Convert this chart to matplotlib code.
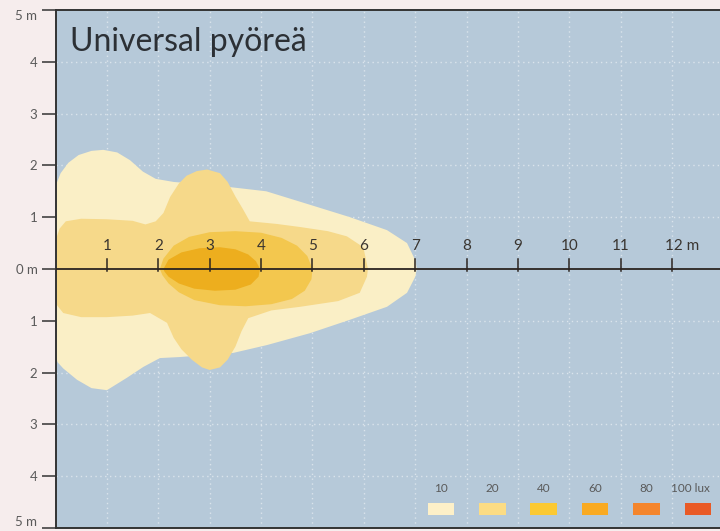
import matplotlib.pyplot as plt
from matplotlib.patches import Rectangle

# light pattern outlines, metres (x ahead, y sideways)
lux10_top_x = [0, 0.1, 0.25, 0.45, 0.7, 0.93, 1.2, 1.45, 1.7, 1.95, 2.3, 2.8, 3.4, 4.1, 4.95, 5.73, 6.45, 6.84, 7.0, 7.03]
lux10_top_y = [1.6, 1.85, 2.05, 2.2, 2.28, 2.3, 2.25, 2.1, 1.88, 1.74, 1.68, 1.64, 1.58, 1.5, 1.24, 1.0, 0.75, 0.5, 0.17, 0.0]
lux10_bot_x = [7.0, 6.84, 6.45, 5.73, 4.95, 4.11, 3.46, 2.42, 2.03, 1.71, 1.39, 1.0, 0.7, 0.42, 0.15, 0.04, 0]
lux10_bot_y = [-0.15, -0.46, -0.73, -0.98, -1.24, -1.47, -1.62, -1.7, -1.72, -1.89, -2.1, -2.34, -2.3, -2.14, -1.92, -1.8, -1.65]

lux20_top_x = [0, 0.08, 0.2, 0.5, 1.0, 1.5, 1.75, 1.95, 2.1, 2.23, 2.4, 2.55, 2.75, 2.95, 3.2, 3.35, 3.5, 3.65, 3.78, 4.3, 4.76, 5.3, 5.67, 5.99, 6.08]
lux20_top_y = [0.55, 0.78, 0.92, 0.97, 0.96, 0.93, 0.86, 0.92, 1.08, 1.39, 1.65, 1.8, 1.89, 1.92, 1.85, 1.68, 1.4, 1.15, 0.92, 0.87, 0.81, 0.73, 0.63, 0.42, 0.0]
lux20_bot_x = [6.06, 5.92, 5.5, 4.76, 4.2, 3.75, 3.62, 3.5, 3.35, 3.2, 3.0, 2.85, 2.65, 2.45, 2.3, 2.17, 1.84, 1.5, 1.0, 0.5, 0.15, 0.03, 0]
lux20_bot_y = [-0.15, -0.46, -0.62, -0.73, -0.8, -0.95, -1.2, -1.5, -1.75, -1.9, -1.95, -1.9, -1.75, -1.55, -1.33, -1.04, -0.85, -0.9, -0.93, -0.93, -0.85, -0.7, -0.5]

lux40_top_x = [2.03, 2.1, 2.3, 2.6, 3.0, 3.5, 4.0, 4.4, 4.7, 4.9, 5.0]
lux40_top_y = [0.0, 0.2, 0.45, 0.62, 0.71, 0.73, 0.7, 0.6, 0.45, 0.25, 0.0]
lux40_bot_x = [4.98, 4.85, 4.6, 4.2, 3.7, 3.2, 2.7, 2.4, 2.2, 2.08]
lux40_bot_y = [-0.2, -0.42, -0.58, -0.68, -0.72, -0.7, -0.6, -0.45, -0.28, -0.12]

lux60_top_x = [2.1, 2.2, 2.45, 2.8, 3.2, 3.5, 3.75, 3.9, 3.98]
lux60_top_y = [0.0, 0.18, 0.32, 0.4, 0.42, 0.38, 0.28, 0.15, 0.0]
lux60_bot_x = [3.95, 3.8, 3.5, 3.1, 2.7, 2.4, 2.2, 2.12]
lux60_bot_y = [-0.15, -0.3, -0.4, -0.42, -0.38, -0.28, -0.15, -0.05]

zone_colors = ['#faefc6', '#f6d98a', '#f3c74e', '#edae1e']

legend_labels = ['10', '20', '40', '60', '80', '100 lux']
legend_colors = ['#fdf0c8', '#fcdc84', '#fbc933', '#f9aa22', '#f4852c', '#e95a26']

distance_labels = ['1', '2', '3', '4', '5', '6', '7', '8', '9', '10', '11', '12 m']
side_labels = ['5 m', '4', '3', '2', '1', '0 m', '1', '2', '3', '4', '5 m']

plt.rcParams['font.family'] = ['Lato', 'DejaVu Sans']

fig = plt.figure(figsize=(7.2, 5.31), dpi=100, facecolor='#f6eded')
ax = fig.add_axes([0.0771, 0.0057, 0.9229, 0.9755])
ax.set_facecolor('#b6c9d9')
ax.set_xlim(0, 12.93)
ax.set_ylim(-5, 5)

# dotted grid
for gx in range(1, 13):
    ax.axvline(gx, color='white', lw=1.0, ls=(0, (1, 2.5)), alpha=0.5, zorder=1)
for gy in [-4, -3, -2, -1, 1, 2, 3, 4]:
    ax.axhline(gy, color='white', lw=1.0, ls=(0, (1, 2.5)), alpha=0.5, zorder=1)

zones = [
    (lux10_top_x, lux10_top_y, lux10_bot_x, lux10_bot_y),
    (lux20_top_x, lux20_top_y, lux20_bot_x, lux20_bot_y),
    (lux40_top_x, lux40_top_y, lux40_bot_x, lux40_bot_y),
    (lux60_top_x, lux60_top_y, lux60_bot_x, lux60_bot_y),
]
for (tx, ty, bx, by), c in zip(zones, zone_colors):
    ax.fill(tx + bx, ty + by, color=c, lw=0, zorder=2)

# centre distance axis
ax.axhline(0, color='#2b2420', lw=1.3, zorder=4)
for i, lab in enumerate(distance_labels):
    d = i + 1
    ax.plot([d, d], [-0.04, 0.2], color='#2b2420', lw=1.1, zorder=4)
    if lab.endswith('m'):
        ax.text(d - 0.14, 0.3, lab, ha='left', va='bottom', fontsize=11, color='#3a3530', zorder=5)
    else:
        ax.text(d, 0.3, lab, ha='center', va='bottom', fontsize=11, color='#3a3530', zorder=5)

# lux legend
for i, (lab, c) in enumerate(zip(legend_labels, legend_colors)):
    cx = 7.5 + i
    ax.add_patch(Rectangle((cx - 0.26, -4.75), 0.52, 0.23, color=c, lw=0, zorder=5))
    if lab.endswith('lux'):
        ax.text(cx - 0.52, -4.23, lab, ha='left', va='center', fontsize=8.5, color='#5a5a5a', zorder=5)
    else:
        ax.text(cx, -4.23, lab, ha='center', va='center', fontsize=8.5, color='#5a5a5a', zorder=5)

ax.text(0.28, 4.38, 'Universal pyöreä', fontsize=23, color='#2c3035', ha='left', va='center', zorder=6)

ax.set_xticks([])
ax.set_yticks(range(5, -6, -1))
ax.set_yticklabels(side_labels)
ax.tick_params(axis='y', direction='out', length=10, width=1.1, color='#333333',
               labelcolor='#5a5a5a', labelsize=9.5, pad=3)
ylabs = ax.get_yticklabels()
ylabs[0].set_va('top')
ylabs[-1].set_va('bottom')
for side in ['left', 'top', 'bottom']:
    ax.spines[side].set_color('#333333')
    ax.spines[side].set_linewidth(1.4)
ax.spines['right'].set_visible(False)

fig.savefig('out.png', dpi=100, facecolor=fig.get_facecolor())
